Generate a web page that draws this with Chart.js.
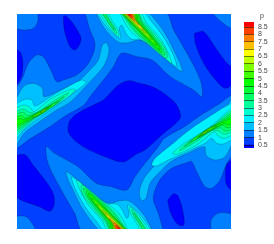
<!DOCTYPE html>
<html><head><meta charset="utf-8">
<style>
html,body{margin:0;padding:0;background:#fff;width:274px;height:244px;overflow:hidden}
canvas{position:absolute;left:0;top:0}
#t{position:absolute;left:260px;top:12px;font:7px "Liberation Sans",Arial,sans-serif;color:#444}
</style>
<script src="https://cdn.jsdelivr.net/npm/chart.js@4"></script>
</head><body>
<canvas id="plot" width="274" height="244"></canvas>
<canvas id="bar" width="274" height="244"></canvas>
<div id="t">p</div>
<script>
const colorbarTitle = 'p';
const tickLabels = ['8.5','8','7.5','7','6.5','6','5.5','5','4.5','4','3.5','3','2.5','2','1.5','1','0.5'];
const bandEdges = [0.3,0.5,1,1.5,2,2.5,3,3.5,4,4.5,5,5.5,6,6.5,7,7.5,8,8.5,8.84];
const bandColors = ['#0000ff','#0040ff','#0080ff','#00bfff','#00f0ff','#00ffd0','#00ff9c','#00ff68','#00ff34','#00ff00','#40ff00','#80ff00','#bfff00','#ffff00','#ffbf00','#ff8000','#ff4000','#ff0000'];

// contour regions, in field coordinates, one array per band
const band05 = [[[47,38],[698,38],[698,692],[47,692]]];
const band00 = [
 [[190,50],[197,47],[215,65],[232,90],[243,115],[238,135],[225,150],[210,140],[200,115],[192,85]],
 [[47,148],[60,155],[68,180],[68,205],[62,235],[47,255]],
 [[207,365],[225,345],[260,325],[310,300],[330,280],[355,255],[385,242],[420,250],[461,262],[505,290],[530,315],[542,350],[525,372],[485,405],[435,450],[411,461],[370,486],[330,476],[270,451],[230,426],[205,396]],
 [[698,476],[680,495],[676,530],[680,555],[698,572]],
 [[503,601],[521,581],[536,591],[551,646],[551,676],[531,671],[511,636]],
 [[47,466],[75,464],[100,496],[135,541],[160,581],[162,616],[150,634],[120,621],[47,586]],
 [[583,100],[611,95],[651,150],[681,190],[698,205],[698,250],[676,265],[651,245],[611,190],[586,130]]
];
const band10 = [
 [[47,38],[110,38],[113,65],[100,85],[75,90],[47,83]],
 [[633,692],[633,661],[651,641],[676,638],[698,646],[698,692]],
 [[47,648],[80,651],[105,692],[47,692]],
 [[636,38],[660,62],[698,85],[698,38]],
 [[255,38],[270,90],[285,130],[280,160],[262,195],[230,225],[190,240],[170,245],[155,215],[130,170],[110,165],[85,190],[65,240],[47,270],[47,441],[92,415],[142,385],[192,350],[252,315],[270,290],[310,240],[340,200],[365,160],[411,170],[456,180],[511,230],[581,270],[606,290],[601,240],[561,160],[521,90],[496,38]],
 [[490,692],[475,640],[460,600],[465,570],[483,535],[515,505],[555,490],[575,485],[590,515],[615,560],[635,565],[660,540],[680,490],[698,460],[698,289],[653,315],[603,345],[553,380],[493,415],[475,440],[435,490],[405,530],[380,570],[334,560],[289,550],[234,500],[164,460],[139,440],[144,490],[184,570],[224,640],[249,692]]
];
const band15 = [
 [[47,300],[72,258],[102,250],[127,265],[132,290],[182,270],[232,245],[270,210],[295,180],[307,135],[318,128],[326,140],[325,165],[310,200],[270,245],[212,305],[162,335],[112,370],[72,400],[47,435]],
 [[698,430],[673,472],[643,480],[618,465],[613,440],[563,460],[513,485],[475,520],[450,550],[438,595],[427,602],[419,590],[420,565],[435,530],[475,485],[533,425],[583,395],[633,360],[673,330],[698,295]],
 [[287,38],[310,80],[335,110],[360,128],[385,128],[420,120],[461,145],[511,190],[546,215],[540,190],[526,160],[501,110],[466,60],[441,38]],
 [[458,692],[435,650],[410,620],[385,602],[360,602],[325,610],[284,585],[234,540],[199,515],[205,540],[219,570],[244,620],[279,670],[304,692]]
];
const band20 = [
 [[47,312],[75,298],[95,300],[105,318],[152,290],[195,265],[245,240],[258,248],[225,275],[172,315],[122,350],[72,390],[47,415]],
 [[698,418],[670,432],[650,430],[635,415],[615,430],[555,458],[505,480],[470,498],[455,495],[465,475],[525,425],[575,385],[635,345],[675,320],[698,312]],
 [[290,38],[318,78],[345,105],[362,115],[358,85],[365,75],[378,100],[395,118],[425,120],[470,150],[510,185],[530,200],[520,165],[490,110],[455,65],[430,38]],
 [[455,692],[427,652],[400,625],[383,615],[387,645],[380,655],[367,630],[350,612],[320,610],[275,580],[235,545],[215,530],[225,565],[255,620],[290,665],[315,692]]
];
const band25 = [
 [[47,325],[72,315],[90,322],[102,335],[152,297],[212,268],[227,270],[192,300],[142,330],[102,360],[62,395],[47,405]],
 [[698,405],[673,415],[655,408],[643,395],[593,433],[533,462],[518,460],[553,430],[603,400],[643,370],[683,335],[698,325]],
 [[297,38],[330,85],[355,110],[355,92],[335,60],[322,38]],
 [[448,692],[415,645],[390,620],[390,638],[410,670],[423,692]],
 [[360,38],[385,85],[411,110],[455,140],[495,175],[515,190],[505,160],[480,115],[440,70],[420,38]],
 [[385,692],[360,645],[334,620],[290,590],[250,555],[230,540],[240,570],[265,615],[305,660],[325,692]]
];
const band30 = [
 [[47,335],[72,327],[88,337],[110,338],[162,302],[207,278],[182,302],[137,332],[102,356],[67,385],[47,397]],
 [[698,395],[673,403],[657,393],[635,392],[583,428],[538,452],[563,428],[608,398],[643,374],[678,345],[698,333]],
 [[305,38],[338,88],[350,102],[347,88],[328,58],[316,38]],
 [[440,692],[407,642],[395,628],[398,642],[417,672],[429,692]],
 [[366,38],[395,85],[425,115],[470,155],[500,175],[498,150],[465,105],[430,65],[410,38]],
 [[379,692],[350,645],[320,615],[275,575],[245,555],[247,580],[280,625],[315,665],[335,692]]
];
const band35 = [
 [[47,342],[70,337],[84,347],[115,336],[167,305],[192,290],[167,312],[132,337],[102,354],[70,377],[47,390]],
 [[698,388],[675,393],[661,383],[630,394],[578,425],[553,440],[578,418],[613,393],[643,376],[675,353],[698,340]],
 [[310,45],[340,88],[345,90],[325,58],[312,38]],
 [[435,685],[405,642],[400,640],[420,672],[433,692]],
 [[370,38],[400,85],[435,120],[480,160],[495,165],[488,145],[455,100],[425,65],[415,38]],
 [[375,692],[345,645],[310,610],[265,570],[250,565],[257,585],[290,630],[320,665],[330,692]]
];
const band40 = [
 [[47,350],[65,347],[78,355],[118,334],[170,305],[175,303],[160,318],[128,340],[100,354],[70,372],[47,383]],
 [[698,380],[680,383],[667,375],[627,396],[575,425],[570,427],[585,412],[617,390],[645,376],[675,358],[698,347]],
 [[360,38],[405,82],[445,125],[485,158],[482,142],[450,100],[420,62],[412,38]],
 [[385,692],[340,648],[300,605],[260,572],[263,588],[295,630],[325,668],[333,692]]
];
const band45 = [
 [[47,358],[62,356],[72,360],[122,334],[155,315],[128,338],[100,352],[72,366],[47,376]],
 [[698,372],[683,374],[673,370],[623,396],[590,415],[617,392],[645,378],[673,364],[698,354]],
 [[364,38],[410,85],[455,130],[480,150],[472,132],[445,98],[415,62],[408,38]],
 [[381,692],[335,645],[290,600],[265,580],[273,598],[300,632],[330,668],[337,692]]
];
const band50 = [
 [[95,352],[130,332],[148,320],[125,340],[100,352]],
 [[650,378],[615,398],[597,410],[620,390],[645,378]],
 [[366,38],[412,85],[455,125],[470,135],[440,95],[410,60],[405,38]],
 [[379,692],[333,645],[290,605],[275,595],[305,635],[335,670],[340,692]]
];
const band55 = [
 [[120,338],[140,325],[130,335]],
 [[625,392],[605,405],[615,395]],
 [[368,38],[412,80],[445,112],[455,118],[435,92],[408,60],[402,38]],
 [[377,692],[333,650],[300,618],[290,612],[310,638],[337,670],[343,692]]
];
const band60 = [
 [[370,38],[412,78],[438,100],[430,88],[405,58],[400,38]],
 [[375,692],[333,652],[307,630],[315,642],[340,672],[345,692]]
];
const band65 = [
 [[372,38],[410,72],[430,92],[423,80],[402,57],[398,38]],
 [[373,692],[335,658],[315,638],[322,650],[343,673],[347,692]]
];
const band70 = [
 [[374,38],[405,66],[418,75],[400,55],[396,38]],
 [[371,692],[340,664],[327,655],[345,675],[349,692]]
];
const band75 = [
 [[376,38],[400,60],[405,60],[394,38]],
 [[369,692],[345,670],[340,670],[351,692]]
];
const band80 = [
 [[378,38],[392,52],[398,54],[392,38]],
 [[367,692],[353,678],[347,676],[353,692]]
];
const band85 = [
 [[381,38],[390,48],[389,38]],
 [[364,692],[355,682],[356,692]]
];

const layers = [
 [band05,'#0040ff'],[band00,'#0000ff'],[band10,'#0080ff'],[band15,'#00bfff'],[band20,'#00f0ff'],
 [band25,'#00ffd0'],[band30,'#00ff9c'],[band35,'#00ff68'],[band40,'#00ff34'],[band45,'#00ff00'],
 [band50,'#40ff00'],[band55,'#80ff00'],[band60,'#bfff00'],[band65,'#ffff00'],[band70,'#ffbf00'],
 [band75,'#ff8000'],[band80,'#ff4000'],[band85,'#ff0000']
];
const datasets = [];
layers.forEach(([polys,color])=>polys.forEach(p=>{
  const pts = p.concat([p[0]]).map(([x,y])=>({x,y}));
  datasets.push({data:pts,showLine:true,fill:'shape',backgroundColor:color,borderColor:'rgba(0,0,0,0.42)',borderWidth:0.5,pointRadius:0,tension:0.3});
}));
datasets.forEach((d,i)=>{d.order = datasets.length - i;});

new Chart(document.getElementById('plot'),{
  type:'scatter',
  data:{datasets},
  options:{responsive:false,animation:false,
    layout:{padding:{left:17,top:14,right:43,bottom:15}},
    plugins:{legend:{display:false},tooltip:{enabled:false}},
    scales:{x:{type:'linear',min:51,max:693,display:false},
            y:{type:'linear',min:42,max:687,reverse:true,display:false}}}
});

const barSets = bandColors.map((c,i)=>({data:[[bandEdges[i],bandEdges[i+1]]],backgroundColor:c,borderWidth:0,barPercentage:1,categoryPercentage:1,grouped:false}));
new Chart(document.getElementById('bar'),{
  type:'bar',
  data:{labels:[colorbarTitle],datasets:barSets},
  options:{responsive:false,animation:false,
    layout:{padding:{left:244,top:22,right:0,bottom:96}},
    plugins:{legend:{display:false},tooltip:{enabled:false}},
    scales:{
      x:{display:false},
      y:{position:'right',min:bandEdges[0],max:bandEdges[bandEdges.length-1],
         afterFit:s=>{s.width=20;},
         afterBuildTicks:s=>{s.ticks=tickLabels.map(v=>({value:parseFloat(v)}));},
         grid:{z:1,color:'rgba(0,0,0,0.5)',lineWidth:1,drawTicks:false,drawOnChartArea:true},
         border:{display:false},
         ticks:{padding:4,color:'#444',font:{family:'"Liberation Sans",Arial,sans-serif',size:7},autoSkip:false,maxRotation:0,
                callback:v=>String(v)}}}}
});
</script>
</body></html>
